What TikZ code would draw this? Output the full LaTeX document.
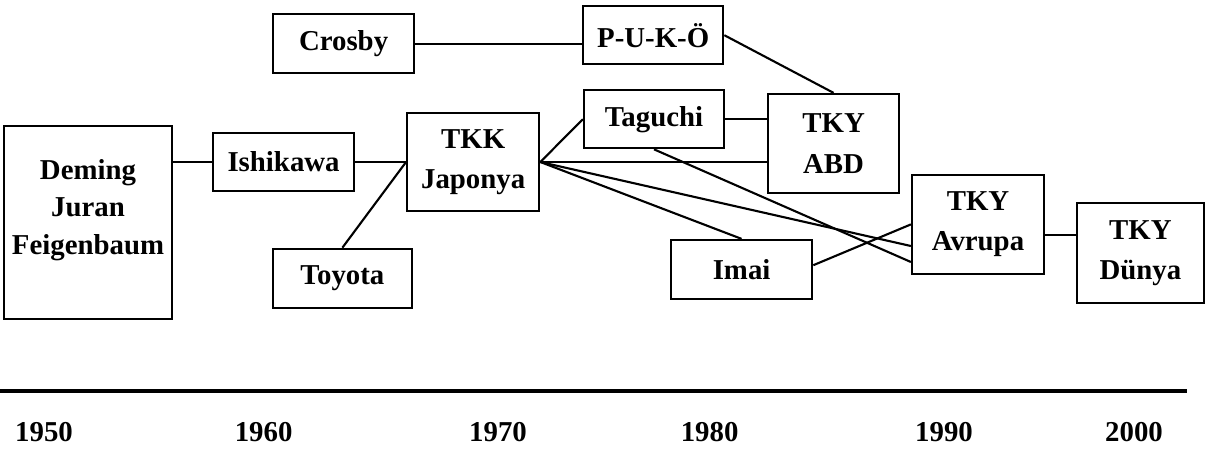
\documentclass[tikz,border=0pt]{standalone}
\usepackage{fontspec}
\setmainfont{Liberation Serif}
\tikzstyle{box} = [draw, line width=1.6pt, align=center, inner sep=0pt]
\tikzstyle{line} = [line width=1.5pt]

\begin{document}
\begin{tikzpicture}[font=\fontsize{20.5}{28.5}\selectfont\bfseries]
        \useasboundingbox (0,0) rectangle (30.15,-11.225);

        %1950-1960
        \node at (2.2,-5.56) [box, minimum width=4.2cm, minimum height=4.83cm] (deming) {};
        \node at (2.2,-5.25) [align=center, font=\fontsize{20.5}{26.5}\selectfont\bfseries] (deminglbl) {Deming\\Juran\\Feigenbaum};
        \node at (7.09,-4.05) [box, minimum width=3.53cm, minimum height=1.45cm] (ishikawa) {Ishikawa};
        \node at (8.56,-6.96) [box, minimum width=3.48cm, minimum height=1.48cm] (toyota) {Toyota};
        \node at (8.59,-1.09) [box, minimum width=3.53cm, minimum height=1.48cm] (crosby) {Crosby};

        %1970-1980
        \node at (11.83,-4.05) [box, minimum width=3.3cm, minimum height=2.45cm] (tkk) {TKK\\Japonya};
        \node at (16.33,-0.88) [box, minimum width=3.5cm, minimum height=1.45cm] (puko) {P-U-K-Ö};
        \node at (16.35,-2.98) [box, minimum width=3.5cm, minimum height=1.45cm] (taguchi) {Taguchi};
        \node at (18.54,-6.74) [box, minimum width=3.53cm, minimum height=1.48cm] (imai) {Imai};
        \node at (20.84,-3.59) [box, minimum width=3.28cm, minimum height=2.48cm] (abd) {TKY\\ABD};

        %1990-2000
        \node at (24.45,-5.61) [box, minimum width=3.3cm, minimum height=2.48cm] (avrupa) {TKY\\Avrupa};
        \node at (28.51,-6.33) [box, minimum width=3.18cm, minimum height=2.5cm] (dunya) {TKY\\Dünya};

        %Lines
        \draw [line] (ishikawa.west -| deming.east) -- (ishikawa.west);
        \draw [line] (ishikawa) -- (tkk);
        \draw [line] (toyota.north) -- (tkk.west);
        \draw [line] (crosby.east) -- (crosby.east -| puko.west);
        \draw [line] (puko.east) -- (abd.north);
        \draw [line] (tkk.east) -- (taguchi.west);
        \draw [line] (taguchi.east) -- (taguchi.east -| abd.west);
        \draw [line] (tkk.east) -- (tkk.east -| abd.west);
        \draw [line] (tkk.east) -- (imai.north);
        \draw [line] (tkk.east) -- ([yshift=-0.54cm]avrupa.west);
        \draw [line] (taguchi.south) -- ([yshift=-0.94cm]avrupa.west);
        \draw [line] ([yshift=0.11cm]imai.east) -- (avrupa.west);
        \coordinate (av) at ([yshift=-0.26cm]avrupa.east);
        \draw [line] (av) -- (av -| dunya.west);

        %time axis
        \coordinate (tl) at (0,-9.775);
        \coordinate (tr) at (29.68,-9.775);
        \draw [line width=2.4pt] (tl) -- (tr);
        \foreach \yr/\x in {1950/1.1, 1960/6.59, 1970/12.45, 1980/17.74, 1990/23.6, 2000/28.35}
            \node at (\x,-10.8) (y\yr) {\yr};

    \end{tikzpicture}
\end{document}
